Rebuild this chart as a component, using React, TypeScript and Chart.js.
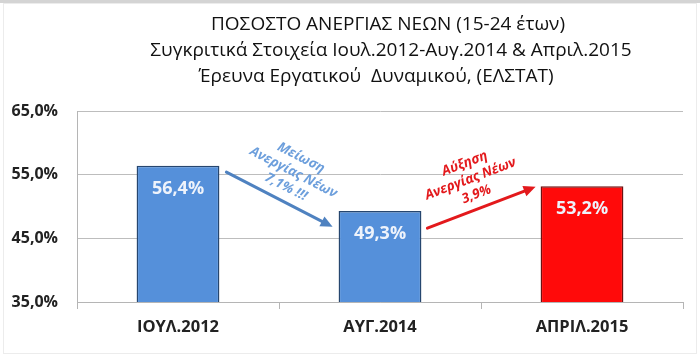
import React, { useEffect, useRef } from "react";
import { Chart, registerables } from "chart.js";

Chart.register(...registerables);

const categories = ["ΙΟΥΛ.2012", "ΑΥΓ.2014", "ΑΠΡΙΛ.2015"];
const values = [56.4, 49.3, 53.2];
const valueLabels = ["56,4%", "49,3%", "53,2%"];
const barColors = ["#5590da", "#5590da", "#ff0a0a"];
const barBorders = ["#26466f", "#26466f", "#6e1010"];
const titleLines = [
  "ΠΟΣΟΣΤΟ ΑΝΕΡΓΙΑΣ ΝΕΩΝ (15-24 έτων)",
  "Συγκριτικά Στοιχεία Ιουλ.2012-Αυγ.2014 & Απριλ.2015",
  "Έρευνα Εργατικού  Δυναμικού, (ΕΛΣΤΑΤ)",
];
const downNote = ["Μείωση", "Ανεργίας Νέων", "7,1% !!!"];
const upNote = ["Αύξηση", "Ανεργίας Νέων", "3,9%"];
// arrow anchor values on the y scale: [start, end]
const downArrowValues = [55.4, 46.8];
const upArrowValues = [46.6, 53.1];

const FONT = "'Open Sans', 'Noto Sans', sans-serif";

function drawArrow(ctx: CanvasRenderingContext2D, x1: number, y1: number, x2: number, y2: number, color: string) {
  const ang = Math.atan2(y2 - y1, x2 - x1);
  const head = 12;
  const hw = 5.5;
  const bx = x2 - head * Math.cos(ang);
  const by = y2 - head * Math.sin(ang);
  ctx.save();
  ctx.strokeStyle = color;
  ctx.fillStyle = color;
  ctx.lineWidth = 3;
  ctx.lineCap = "round";
  ctx.beginPath();
  ctx.moveTo(x1, y1);
  ctx.lineTo(bx, by);
  ctx.stroke();
  ctx.beginPath();
  ctx.moveTo(x2, y2);
  ctx.lineTo(bx + hw * Math.sin(ang), by - hw * Math.cos(ang));
  ctx.lineTo(bx - hw * Math.sin(ang), by + hw * Math.cos(ang));
  ctx.closePath();
  ctx.fill();
  ctx.restore();
}

function drawNote(ctx: CanvasRenderingContext2D, lines: string[], x1: number, y1: number, x2: number, y2: number, color: string) {
  const ang = Math.atan2(y2 - y1, x2 - x1);
  const mx = (x1 + x2) / 2;
  const my = (y1 + y2) / 2;
  ctx.save();
  ctx.translate(mx, my);
  ctx.rotate(ang);
  ctx.fillStyle = color;
  ctx.font = `italic bold 13.5px ${FONT}`;
  ctx.textAlign = "center";
  ctx.textBaseline = "middle";
  const spacing = 16.5;
  const lastY = -14;
  lines.forEach((t, i) => {
    ctx.fillText(t, 0, lastY - (lines.length - 1 - i) * spacing);
  });
  ctx.restore();
}

const decorPlugin = {
  id: "decor",
  beforeDraw(chart: any) {
    const ctx = chart.ctx as CanvasRenderingContext2D;
    ctx.save();
    ctx.fillStyle = "#ffffff";
    ctx.fillRect(0, 0, chart.width, chart.height);
    ctx.fillStyle = "#d4d4d4";
    ctx.fillRect(0, 0, chart.width, 3);
    ctx.strokeStyle = "#ececec";
    ctx.lineWidth = 1;
    ctx.strokeRect(3.5, 3.5, chart.width - 7, chart.height - 7);
    ctx.restore();
  },
  afterDraw(chart: any) {
    const ctx = chart.ctx as CanvasRenderingContext2D;
    const yS = chart.scales.y;
    const bars = chart.getDatasetMeta(0).data;

    // title
    ctx.save();
    ctx.fillStyle = "#111111";
    ctx.textAlign = "center";
    ctx.textBaseline = "middle";
    ctx.font = `19px ${FONT}`;
    const centers = [388, 391, 376];
    const ys = [25, 51, 77];
    titleLines.forEach((t, i) => ctx.fillText(t, centers[i], ys[i]));
    ctx.restore();

    // value labels
    ctx.save();
    ctx.fillStyle = "#eef3fb";
    ctx.textAlign = "center";
    ctx.textBaseline = "middle";
    ctx.font = `bold 18px ${FONT}`;
    bars.forEach((b: any, i: number) => ctx.fillText(valueLabels[i], b.x, b.y + 23));
    ctx.restore();

    // arrows
    const b0 = bars[0], b1 = bars[1], b2 = bars[2];
    const dx1 = b0.x + b0.width / 2 + 7;
    const dy1 = yS.getPixelForValue(downArrowValues[0]);
    const dx2 = b1.x - b1.width / 2 - 6;
    const dy2 = yS.getPixelForValue(downArrowValues[1]);
    drawArrow(ctx, dx1, dy1, dx2, dy2, "#4f82c0");
    drawNote(ctx, downNote, dx1, dy1, dx2, dy2, "#6d9fdc");

    const ux1 = b1.x + b1.width / 2 + 6;
    const uy1 = yS.getPixelForValue(upArrowValues[0]);
    const ux2 = b2.x - b2.width / 2 - 5;
    const uy2 = yS.getPixelForValue(upArrowValues[1]);
    drawArrow(ctx, ux1, uy1, ux2, uy2, "#e3191c");
    drawNote(ctx, upNote, ux1, uy1, ux2, uy2, "#e3191c");
  },
};

export default function App() {
  const ref = useRef<HTMLCanvasElement>(null);
  useEffect(() => {
    document.body.style.margin = "0";
    const chart = new Chart(ref.current as HTMLCanvasElement, {
      type: "bar",
      data: {
        labels: categories,
        datasets: [
          {
            data: values,
            backgroundColor: barColors,
            borderColor: barBorders,
            borderWidth: 1.5,
            barPercentage: 0.41,
            categoryPercentage: 1,
          },
        ],
      },
      options: {
        responsive: false,
        animation: false,
        layout: { padding: { top: 111, left: 0, right: 17, bottom: 0 } },
        plugins: { legend: { display: false }, tooltip: { enabled: false }, title: { display: false } },
        scales: {
          x: {
            grid: { display: true, drawOnChartArea: false, drawTicks: true, tickLength: 7, color: "#b5b5b5", offset: true },
            border: { display: true, color: "#b5b5b5" },
            ticks: { font: { family: FONT, size: 16.5, weight: "bold" }, color: "#222222", padding: 8 },
            afterFit: (s: any) => { s.height = 55; },
          },
          y: {
            min: 35,
            max: 65,
            ticks: {
              stepSize: 10,
              callback: (v: any) => Number(v).toFixed(1).replace(".", ",") + "%",
              font: { family: FONT, size: 16, weight: "bold" },
              color: "#222222",
              padding: 19,
            },
            grid: { color: "#bdbdbd", drawTicks: false },
            border: { display: true, color: "#b5b5b5" },
            afterFit: (s: any) => { s.width = 77; },
          },
        },
      } as any,
      plugins: [decorPlugin],
    });
    return () => chart.destroy();
  }, []);
  return (
    <div style={{ position: "relative", width: 700, height: 357 }}>
      <canvas ref={ref} width={700} height={357} style={{ display: "block" }} />
    </div>
  );
}
